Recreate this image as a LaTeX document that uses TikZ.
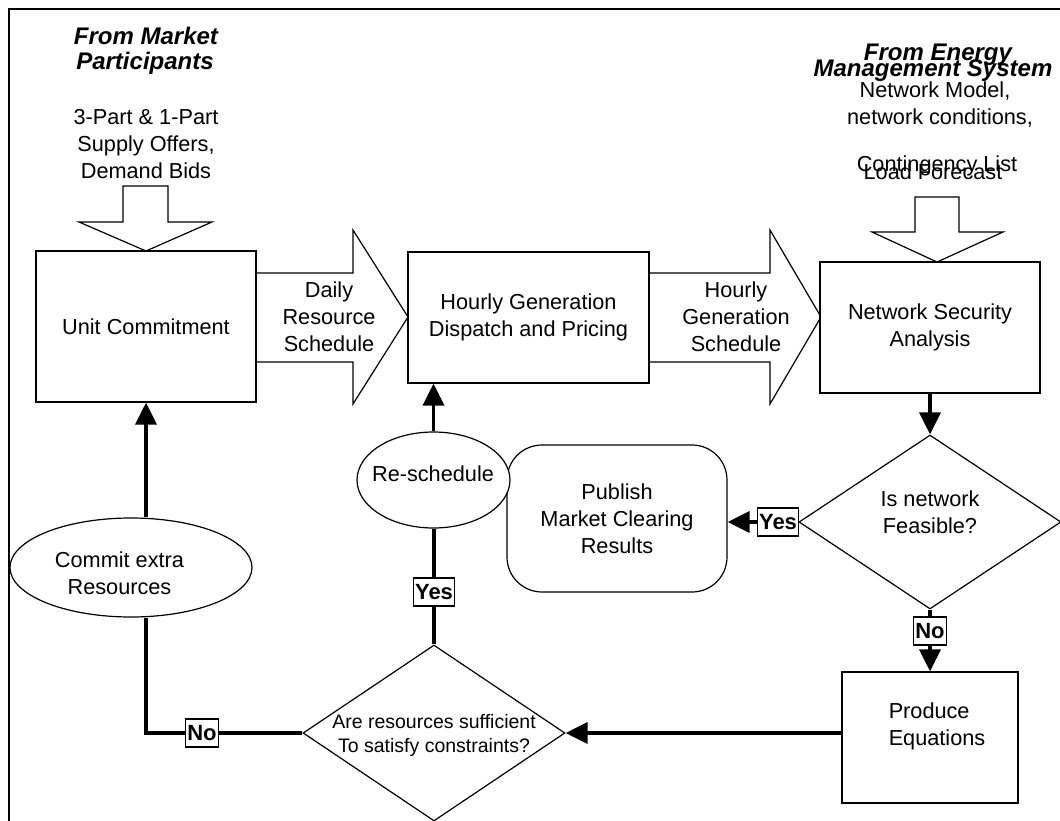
\documentclass[tikz,border=0pt]{standalone}
\usepackage{fontspec}
\setmainfont{Liberation Sans}
\usetikzlibrary{shapes.geometric,arrows.meta}
\begin{document}
\begin{tikzpicture}[x=1pt,y=-1pt,
  body/.style={font=\fontsize{21.7pt}{27pt}\selectfont},
  small/.style={font=\fontsize{19.5pt}{24pt}\selectfont},
  head/.style={font=\fontsize{24pt}{25pt}\selectfont\bfseries\itshape},
  oneline/.style={anchor=base,inner sep=0pt},
  outline/.style={draw=black,line width=1.2pt},
  box/.style={outline,fill=white,rectangle,inner sep=0pt,align=center,body},
  ell/.style={outline,fill=white,ellipse,inner sep=0pt},
  dia/.style={outline,fill=white,diamond,inner sep=0pt},
  txt/.style={body,align=center,inner sep=0pt},
  bigarrow/.style={outline,fill=white,line join=miter},
  wire/.style={line width=3.6pt},
  flow/.style={wire,-{Triangle[width=21pt,length=22pt]}},
  tag/.style={draw=black,line width=1.2pt,fill=white,inner sep=1.5pt,
    minimum height=28pt,font=\fontsize{22pt}{24pt}\selectfont\bfseries},
]
\useasboundingbox (0,0) rectangle (1060,821);
\fill[white] (0,0) rectangle (1060,821);

% inputs from outside
\node[head,oneline] (fm1) at (146,45) {From Market};
\node[head,oneline] (fm2) at (145,70) {Participants};
\node[body,oneline] (in1) at (146,125) {3-Part \& 1-Part};
\node[body,oneline] (in2) at (146,152) {Supply Offers,};
\node[body,oneline] (in3) at (146,179) {Demand Bids};

\node[head,oneline] (fe1) at (938,61) {From Energy};
\node[head,oneline] (fe2) at (933,77) {Management System};
\node[body,oneline] (en1) at (935,98) {Network Model,};
\node[body,oneline] (en2) at (940,125) {network conditions,};
\node[body,oneline] (en3) at (937,172) {Contingency List};
\node[body,oneline] (en4) at (933,180) {Load Forecast};

% block arrows
\draw[bigarrow] (123,186) -- (168,186) -- (168,222) -- (212,222) -- (146,251)
  -- (79,222) -- (123,222) -- cycle;
\draw[bigarrow] (915,197) -- (959,197) -- (959,232) -- (1003,232) -- (937,262)
  -- (872,232) -- (915,232) -- cycle;
\draw[bigarrow] (255,273) -- (353,273) -- (353,230) -- (408,317) -- (353,404)
  -- (353,362) -- (255,362) -- cycle;
\draw[bigarrow] (649,273) -- (770,273) -- (770,230) -- (821,317) -- (770,404)
  -- (770,362) -- (649,362) -- cycle;
\node[txt] (daily) at (329,317) {Daily\\Resource\\Schedule};
\node[txt] (hgs) at (736,317) {Hourly\\Generation\\Schedule};

% process boxes
\node[box,minimum width=220pt,minimum height=151pt] (unit) at (146,326.5) {Unit Commitment};
\node[box,minimum width=241pt,minimum height=131pt] (hourly) at (528.5,317.5) {Hourly Generation\\Dispatch and Pricing};
\node[box,minimum width=220pt,minimum height=131pt] (nsa) at (930,327.5) {Network Security\\Analysis};
\node[box,minimum width=176pt,minimum height=131pt] (prod) at (930,737.5) {};
\node[txt,align=left] (prodT) at (937,726) {Produce\\Equations};
\node[box,rounded corners=35pt,minimum width=220pt,minimum height=147pt] (pub) at (617,518.5) {Publish\\Market Clearing\\Results};

% ellipses
\node[ell,minimum width=153pt,minimum height=96pt] (resch) at (433.5,480) {};
\node[txt] (reschT) at (433,474) {Re-schedule};
\node[ell,minimum width=242pt,minimum height=99pt] (commit) at (131,567.5) {};
\node[txt] (commitT) at (119.5,573) {Commit extra\\Resources};

% decisions
\node[dia,minimum width=262pt,minimum height=174pt] (feas) at (930,522) {};
\node[txt] (feasT) at (930,512) {Is network\\Feasible?};
\node[dia,minimum width=262pt,minimum height=176pt] (res) at (434,733) {};
\node[txt,small] (resT) at (434,735) {Are resources sufficient\\To satisfy constraints?};

% connectors
\draw[flow] (commit.north -| unit.south) -- (unit.south);
\draw[wire] (res.west) -| (unit.south |- commit.south);
\draw[wire] (res.north) -- (resch.south -| res.north);
\draw[flow] (resch.north) -- (resch.north |- hourly.south);
\draw[flow] (prod.west |- res.east) -- (res.east);
\draw[flow] (nsa.south) -- (feas.north);
\draw[flow] (feas.west) -- (feas.west -| pub.east);
\draw[flow] (feas.south) -- (prod.north);

% branch labels
\node[tag] (no1) at (202,733) {No};
\node[tag] (yes1) at (434,592) {Yes};
\node[tag] (yes2) at (778,522) {Yes};
\node[tag] (no2) at (930,631) {No};

% page frame, open on the right and bottom
\draw[line width=2.5pt] (9,830) -- (9,9) -- (1070,9);
\end{tikzpicture}
\end{document}
